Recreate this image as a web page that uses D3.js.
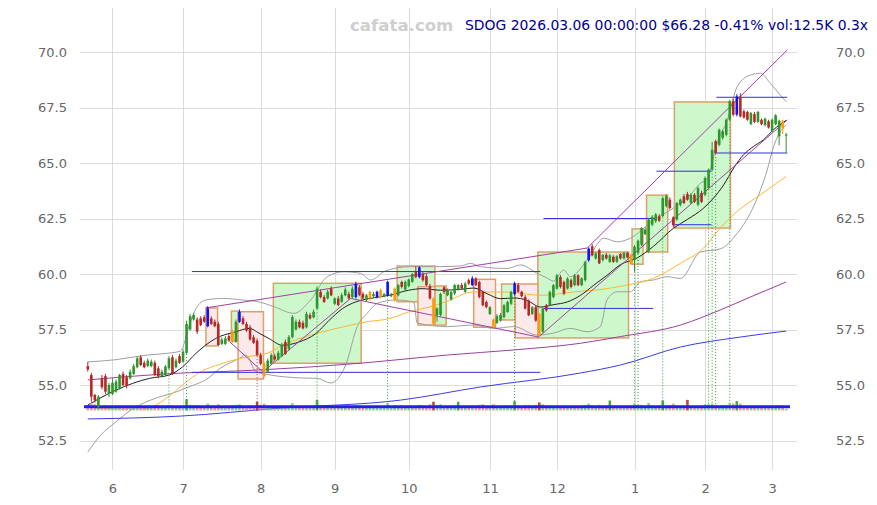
<!DOCTYPE html>
<html>
<head>
<meta charset="utf-8">
<script src="https://cdn.jsdelivr.net/npm/d3@7"></script>
<style>
  body { margin: 0; background: #fff; }
  svg { display: block; font-family: "DejaVu Sans", sans-serif; }
</style>
</head>
<body>
<div id="chart"></div>
<script>
// daily candles, index 0 = 2025-05-21 ... 198 = 2026-03-06
var open = [
  55.85,55.45,54.55,54.02,55.30,55.40,54.60,54.60,54.70,54.85,55.50,55.35,55.30,55.50,55.80,56.25,56.00,55.85,55.85,56.00,
  55.75,55.40,55.45,55.75,56.25,55.80,56.30,56.05,56.45,57.50,57.95,57.95,58.00,58.05,57.65,58.00,57.85,57.75,56.85,56.85,
  57.20,56.95,56.95,57.85,58.00,57.75,57.60,57.15,57.00,56.35,55.96,55.60,55.96,56.30,56.15,56.30,56.94,56.63,57.16,57.50,
  57.85,57.80,57.60,58.15,58.05,58.44,59.20,58.96,58.90,59.34,58.66,58.90,58.75,59.04,59.10,58.96,58.96,59.40,59.10,58.82,
  58.90,59.00,58.96,58.96,59.00,59.04,59.00,58.82,59.04,59.64,59.30,59.45,59.65,60.10,59.86,60.00,59.90,59.45,58.90,58.15,
  58.15,59.40,59.04,58.85,59.12,59.30,59.50,59.20,59.72,59.50,59.80,59.64,59.19,58.74,58.20,57.95,57.80,57.90,58.06,58.29,
  58.66,59.10,59.50,59.20,58.96,58.80,58.20,58.50,58.20,57.40,58.59,58.59,58.96,59.34,59.86,59.64,59.34,59.72,59.50,59.94,
  59.50,59.72,60.62,61.25,60.70,61.08,60.63,60.86,60.54,60.78,60.55,60.90,60.70,60.95,60.86,60.63,60.95,61.32,61.80,61.02,
  62.22,62.38,62.60,62.61,63.06,63.35,62.55,62.45,63.12,63.50,63.60,63.20,63.57,63.12,63.65,63.57,63.87,64.70,65.98,65.82,
  66.13,66.27,66.95,67.78,67.18,68.00,67.33,67.30,66.75,67.20,66.85,66.95,66.70,66.88,66.45,66.75,66.20,66.90,66.25
];
var high = [
  56.05,55.55,54.60,54.55,55.45,55.50,55.10,55.30,55.25,55.50,55.60,55.45,55.70,55.95,56.30,56.35,56.10,56.20,56.15,56.10,
  55.85,55.70,55.90,56.30,56.35,56.20,56.40,56.60,57.90,58.20,58.25,58.05,58.10,58.15,58.55,58.10,57.95,57.85,57.15,57.20,
  57.30,57.50,57.95,58.40,58.10,57.85,57.70,57.25,57.10,56.45,56.05,56.20,56.45,56.40,56.55,56.90,57.05,57.25,58.15,57.95,
  57.95,57.90,58.30,58.25,58.40,59.45,59.30,59.05,59.30,59.45,58.95,59.00,59.15,59.40,59.20,59.45,59.65,59.50,59.20,59.10,
  59.25,59.20,59.25,59.35,59.15,59.70,59.15,59.40,59.55,59.70,59.70,59.80,60.05,60.35,60.35,60.10,60.00,59.55,58.95,58.50,
  59.15,59.45,59.35,59.25,59.55,59.55,59.60,59.65,59.80,59.90,59.85,59.70,59.25,58.80,58.55,58.00,58.20,58.25,58.65,58.80,
  59.25,59.65,59.60,59.25,59.05,58.85,58.55,58.60,58.25,58.50,58.65,59.25,59.55,60.00,59.95,59.70,59.85,59.80,60.00,60.00,
  59.85,60.60,61.20,61.35,61.00,61.15,60.90,60.95,60.90,60.85,60.85,60.95,61.00,61.00,60.90,61.30,61.55,62.12,62.10,62.50,
  62.65,62.75,62.70,63.50,63.60,63.45,62.60,63.25,63.40,63.60,63.70,63.65,63.65,63.95,63.75,64.40,64.75,65.95,66.05,66.55,
  66.50,67.00,67.85,67.90,68.10,68.15,67.40,67.35,67.30,67.30,67.35,67.00,67.05,66.95,67.00,67.20,66.95,66.95,66.35
];
var low = [
  55.60,54.25,54.20,53.95,54.80,54.60,54.45,54.55,54.65,54.80,54.95,54.85,55.25,55.45,55.75,55.85,55.75,55.80,55.80,55.40,
  55.30,55.35,55.40,55.70,55.45,55.75,55.95,56.00,56.40,57.45,57.90,57.30,57.65,57.80,57.60,57.70,57.60,56.75,56.80,56.80,
  56.95,56.90,56.90,57.80,57.70,57.40,57.00,56.85,56.30,55.90,55.35,55.55,55.90,56.10,56.10,56.25,56.35,56.55,57.10,57.45,
  57.55,57.50,57.55,57.95,58.00,58.40,58.90,58.70,58.85,59.00,58.60,58.55,58.70,59.00,58.85,58.90,58.90,59.00,58.85,58.75,
  58.80,58.95,58.90,58.90,58.95,59.00,58.95,58.75,59.00,59.35,59.25,59.40,59.60,59.80,59.80,59.65,59.45,58.85,57.70,57.85,
  58.10,59.10,59.00,58.80,59.05,59.25,59.30,59.15,59.50,59.45,59.45,58.90,58.55,58.45,58.15,57.55,57.75,57.85,58.00,58.25,
  58.60,59.05,59.15,58.95,58.40,58.10,58.15,57.85,57.20,57.35,58.30,58.55,58.90,59.30,59.35,59.05,59.30,59.35,59.45,59.45,
  59.45,59.65,60.55,60.80,60.65,60.45,60.55,60.65,60.50,60.50,60.50,60.65,60.65,60.70,60.40,60.10,60.90,61.25,61.75,60.95,
  62.15,62.30,62.35,62.55,63.00,62.90,62.10,62.40,63.05,63.15,63.30,63.15,63.20,63.05,63.20,63.50,63.80,64.65,65.40,65.75,
  66.05,66.20,66.90,67.10,67.10,67.05,67.00,66.90,66.70,66.80,66.80,66.70,66.65,66.55,66.40,66.70,65.80,66.30,65.45
];
var close = [
  55.70,54.47,54.32,54.47,54.90,54.70,55.00,55.10,55.15,55.45,55.00,54.95,55.60,55.85,56.20,55.90,55.80,56.10,56.05,55.45,
  55.40,55.60,55.83,56.20,55.50,56.10,56.00,56.50,57.75,58.10,58.15,57.40,57.70,57.85,58.45,57.75,57.65,56.80,57.05,57.10,
  57.00,57.40,57.85,58.30,57.75,57.45,57.05,56.90,56.35,55.96,55.40,56.10,56.35,56.15,56.45,56.80,56.40,57.16,58.06,57.85,
  57.60,57.55,58.20,58.00,58.30,59.34,58.96,58.74,59.20,59.04,58.90,58.60,59.05,59.30,58.90,59.34,59.56,59.05,58.90,59.04,
  59.20,59.10,59.20,59.27,59.10,59.64,59.10,59.34,59.50,59.42,59.65,59.75,60.00,59.86,60.30,59.72,59.50,58.90,57.76,58.45,
  59.10,59.20,59.27,59.19,59.50,59.50,59.35,59.57,59.57,59.80,59.50,58.96,58.59,58.51,58.50,57.60,58.10,58.15,58.59,58.74,
  59.19,59.57,59.20,59.00,58.44,58.14,58.50,57.90,57.25,58.44,58.36,59.19,59.50,59.94,59.42,59.12,59.79,59.42,59.94,59.50,
  59.80,60.54,61.14,60.84,60.93,60.48,60.86,60.70,60.84,60.55,60.80,60.70,60.95,60.75,60.45,61.23,61.50,62.07,62.00,62.45,
  62.58,62.68,62.40,63.42,63.51,62.97,62.20,63.20,63.35,63.20,63.35,63.57,63.25,63.87,63.25,64.32,64.70,65.60,65.45,66.50,
  66.43,66.95,67.78,67.18,68.00,67.10,67.05,66.95,67.25,66.85,67.30,66.75,67.00,66.60,66.95,67.15,66.90,66.55,66.28
];
// volume in thousands
var volume = [
  45,60,50,40,35,40,30,35,30,40,35,30,30,35,40,35,30,30,35,40,
  40,30,30,45,40,30,35,30,90,45,40,40,35,35,55,35,35,50,35,30,
  30,40,45,50,35,30,40,35,70,45,55,40,35,30,30,35,40,35,60,35,
  30,30,40,30,35,85,40,35,30,35,30,35,35,30,35,35,45,40,30,30,
  35,30,40,35,30,60,35,40,35,40,30,35,40,35,45,40,35,50,70,45,
  50,35,30,35,30,70,30,30,35,40,35,45,50,35,30,50,35,30,35,40,
  40,75,40,35,45,45,30,45,65,50,35,40,35,40,35,40,30,35,40,30,
  35,45,55,40,35,45,30,30,80,35,30,30,35,30,40,55,45,45,35,60,
  40,35,40,80,40,45,55,40,35,40,85,35,35,40,35,50,50,55,45,40,
  45,45,60,55,75,55,40,35,35,40,35,30,35,35,40,35,40,40,12.5
];
var blueDays = [34, 43, 76, 82, 85, 94, 109, 121, 142, 184];
var orangeDays = [41, 50, 80, 83, 87, 98, 115, 128, 154, 197];

var monthIdx = [7, 27, 49, 70, 91, 114, 133, 155, 175, 194];
var monthLabels = ["6", "7", "8", "9", "10", "11", "12", "1", "2", "3"];
var priceTicks = [52.5, 55, 57.5, 60, 62.5, 65, 67.5, 70];

// indicator lines, [day index, price]
var ma20 = [[0,54.1],[8,54.77],[17.5,55.3],[23.1,55.45],[26.9,55.82],[30.7,56.43],[36.3,57.1],[42,57.4],[45.8,57.55],
  [48.6,57.33],[51.4,57.09],[55.2,56.79],[59.9,56.94],[64.6,57.31],[68.4,57.91],[72.2,58.44],[75.9,58.74],[79.7,58.89],
  [85.4,59.04],[91,59.27],[94.8,59.34],[100,59.27],[105.7,59.31],[109.4,59.37],[113.2,59.11],[117,58.89],[120.8,58.92],
  [124.6,58.81],[128.3,58.51],[132.1,58.62],[135.9,58.74],[139.7,59.04],[143.4,59.49],[147.2,59.94],[151,60.42],
  [155.7,60.72],[160.4,61.25],[166.1,62.07],[169.9,62.45],[174.6,62.97],[177.4,63.42],[180.3,64.02],[183.1,64.77],
  [185.9,65.37],[188.8,65.75],[191.6,66.05],[194.4,66.5],[198,66.92]];
var bbUpper = [[0,56.04],[7.4,56.13],[16.9,56.35],[22.6,56.43],[26.3,56.53],[28.8,57.7],[30.7,58.45],[33.5,58.83],
  [38.2,58.9],[43.9,58.83],[48.6,58.74],[52.8,58.53],[58.4,58.23],[63.2,58.83],[67.9,59.88],[72.6,60.1],[77.3,60.03],
  [80.2,59.73],[84.4,60.14],[91.5,60.33],[98.1,60.33],[105.7,60.36],[108.5,60.48],[111.3,60.33],[118.9,60.25],
  [122.7,60.41],[127.4,60.03],[130.2,59.82],[132,59.68],[134.9,60.18],[136.8,59.88],[141.6,60.63],[146.3,61.61],
  [150.1,61.45],[153.8,61.61],[160.4,62.43],[165.2,62.88],[170.8,63.56],[173.7,64.09],[175.6,64.31],[178.4,65.89],
  [181.3,66.94],[184.1,68.44],[187.8,68.96],[190.7,69.04],[193.5,68.59],[196.3,68.06],[198,67.76]];
var bbLower = [[0,51.98],[3.7,52.75],[7.9,53.33],[12.2,53.87],[17.8,54.32],[24.9,54.68],[29.2,54.95],[33.4,55.23],
  [37.7,55.77],[43,56.2],[44.8,56.35],[47.7,55.6],[51.8,55.45],[60.3,55.32],[65.1,55.3],[68.8,55.09],[73.1,55.9],
  [76.4,57.63],[79.2,58.23],[82.1,58.68],[87.3,58.83],[92.4,58.74],[93.4,57.79],[101.9,57.63],[109.4,57.7],
  [115.1,57.55],[120.8,57.63],[127.4,57.25],[132,57.34],[136.8,57.55],[141.6,57.4],[145.3,57.63],[147.2,58.83],
  [150.1,59.2],[153.8,59.2],[156.7,59.65],[160.4,59.73],[164.2,59.88],[168,59.8],[173.7,60.99],[179.3,61.13],
  [184.1,61.83],[187.8,62.73],[190.7,63.78],[192.6,64.68],[194.4,65.73],[196.3,66.41],[198,66.71]];
var ma50 = [[2.3,53.96],[9.3,53.92],[16.9,53.92],[19.8,54.14],[23.5,54.55],[27.2,55.05],[32,55.59],[37.7,55.95],
  [43.3,56.2],[47.6,56.34],[50.9,56.43],[55.2,56.79],[64.6,57.31],[72.2,57.61],[78.8,57.84],[85.4,57.99],[91,58.29],
  [98.6,58.59],[101.4,58.74],[109.4,59.19],[118.9,59.19],[128.3,59.04],[137.8,59.19],[147.2,59.34],[152.4,59.49],
  [160.4,59.81],[168,60.48],[174.6,61.17],[179.3,62.07],[184.1,62.82],[190.7,63.57],[198,64.4]];
var ma100 = [[0,55.23],[22.1,55.5],[49,55.68],[77.3,55.98],[101.9,56.35],[120.8,56.58],[139.7,56.88],[151,57.18],
  [168,57.7],[179.3,58.38],[187.8,58.96],[198,59.64]];
var ma200 = [[0,53.47],[26.3,53.6],[54.7,53.96],[88.7,54.32],[111.3,54.91],[139.7,55.54],[151,55.9],[168,56.71],
  [185,57.16],[198,57.43]];

// zones [from day, to day, top, bottom]
var greenBoxes = [[40.7,42.6,58.33,56.98],[52.6,77.5,59.58,55.98],[87.7,98.4,60.36,58.75],[98.4,101.6,59.46,57.7],
  [117.3,121.2,59.55,57.93],[127.6,153.3,60.99,57.12],[154.3,157.4,62.03,60.44],[158.4,164.4,63.55,60.99],
  [166.3,182.2,67.75,62.07]];
var pinkBoxes = [[33.5,36.8,58.47,56.76],[42.6,49.8,58.3,55.27],[93.6,98.4,59.43,57.7],[109.4,115.6,59.76,57.6],
  [121.2,127.6,59.55,57.12]];
// levels [from day, to day, price]
var levels = [[29.5,128.3,60.11],[29.5,128.3,55.57],[129.2,160.9,62.5],[129.2,160.3,58.45],[161.2,176.8,64.63],
  [166,176.8,62.22],[178.2,198.3,67.96],[178.2,198.3,65.45]];
var zigzag = [[40.2,56.95],[49.6,55.59],[74.5,58.9],[127.8,57.16],[198.3,66.94]];
var channel = [[33.4,58.47],[141.6,61.17],[198.3,70.09]];
var signalUp = [23, 28, 65, 85, 121, 155, 156, 163, 176, 177, 178, 182];
var signalDown = [48];
var baseLevel = 54.02;

var W = 877, H = 505;
var svg = d3.select("#chart").append("svg").attr("width", W).attr("height", H);
svg.append("rect").attr("width", W).attr("height", H).attr("fill", "#fff");

var x = d3.scaleLinear().domain([0, 198]).range([87.8, 786.2]);
var y = d3.scaleLinear().domain([52.5, 70]).range([440.5, 52]);
var vy = d3.scaleLinear().domain([0, 100]).range([410.5, 398]);

// grid
svg.append("g").selectAll("line").data(priceTicks).enter().append("line")
  .attr("x1", 80).attr("x2", 797)
  .attr("y1", function(d) { return Math.round(y(d)) + 0.5; })
  .attr("y2", function(d) { return Math.round(y(d)) + 0.5; })
  .attr("stroke", "#dcdcdc");
svg.append("g").selectAll("line").data(monthIdx).enter().append("line")
  .attr("y1", 8).attr("y2", 470)
  .attr("x1", function(d) { return Math.round(x(d)) + 0.5; })
  .attr("x2", function(d) { return Math.round(x(d)) + 0.5; })
  .attr("stroke", "#dcdcdc");

// zones
function drawBoxes(data, fill) {
  svg.append("g").selectAll("rect").data(data).enter().append("rect")
    .attr("x", function(d) { return x(d[0]); })
    .attr("y", function(d) { return y(d[2]); })
    .attr("width", function(d) { return x(d[1]) - x(d[0]); })
    .attr("height", function(d) { return y(d[3]) - y(d[2]); })
    .attr("fill", fill)
    .attr("stroke", "#dda06a").attr("stroke-width", 1.5);
}
drawBoxes(greenBoxes, "#ccf8cc");
drawBoxes(pinkBoxes, "#fce9e9");

var line = d3.line().x(function(d) { return x(d[0]); }).y(function(d) { return y(d[1]); });
var smooth = d3.line().curve(d3.curveMonotoneX)
  .x(function(d) { return x(d[0]); }).y(function(d) { return y(d[1]); });

function drawLine(data, gen, color, width) {
  svg.append("path").datum(data).attr("d", gen)
    .attr("fill", "none").attr("stroke", color).attr("stroke-width", width || 1);
}
drawLine(bbUpper, smooth, "#a0a0a0");
drawLine(bbLower, smooth, "#a0a0a0");
drawLine(ma200, smooth, "#3b3bf0");
drawLine(ma100, smooth, "#9b3fa0");
drawLine(ma50, smooth, "#ffb733");
drawLine(ma20, smooth, "#222");

// levels
svg.append("g").selectAll("line").data(levels).enter().append("line")
  .attr("x1", function(d) { return x(d[0]); })
  .attr("x2", function(d) { return x(d[1]); })
  .attr("y1", function(d) { return y(d[2]); })
  .attr("y2", function(d) { return y(d[2]); })
  .attr("stroke", "#3030e0").attr("stroke-width", 1);

drawLine(zigzag, line, "#a040a8");
drawLine(channel, line, "#a040a8");

// signal drops
function drawDrops(days, color) {
  svg.append("g").selectAll("line").data(days).enter().append("line")
    .attr("x1", function(d) { return x(d); })
    .attr("x2", function(d) { return x(d); })
    .attr("y1", function(d) { return y(low[d]); })
    .attr("y2", y(baseLevel))
    .attr("stroke", color).attr("stroke-width", 1).attr("stroke-dasharray", "1,2");
}
drawDrops(signalUp, "#3a9a3a");
drawDrops(signalDown, "#c04040");

// volume
var idx = d3.range(close.length);
svg.append("g").selectAll("rect").data(idx).enter().append("rect")
  .attr("x", function(i) { return x(i) - 1.3; })
  .attr("width", 2.6)
  .attr("y", function(i) { return vy(volume[i]); })
  .attr("height", function(i) { return vy(0) - vy(volume[i]); })
  .attr("fill", function(i) {
    var up = close[i] >= open[i];
    if (volume[i] > 60) return up ? "#2e962e" : "#b52828";
    return up ? "#7cc47c" : "#e08c98";
  })
  .attr("opacity", 0.85);

svg.append("line")
  .attr("x1", 84).attr("x2", 790)
  .attr("y1", y(baseLevel)).attr("y2", y(baseLevel))
  .attr("stroke", "#2020e8").attr("stroke-width", 3);

// candles
function candleColor(i) {
  if (blueDays.indexOf(i) >= 0) return "#1010ff";
  if (orangeDays.indexOf(i) >= 0) return "#ff9a00";
  return close[i] >= open[i] ? "#2e962e" : "#b52828";
}
var candles = svg.append("g").selectAll("g").data(idx).enter().append("g");
candles.append("line")
  .attr("x1", function(i) { return x(i); })
  .attr("x2", function(i) { return x(i); })
  .attr("y1", function(i) { return y(high[i]); })
  .attr("y2", function(i) { return y(low[i]); })
  .attr("stroke", candleColor).attr("stroke-width", 1);
candles.append("rect")
  .attr("x", function(i) { return x(i) - 1.3; })
  .attr("width", 2.6)
  .attr("y", function(i) { return y(Math.max(open[i], close[i])); })
  .attr("height", function(i) { return Math.max(1, Math.abs(y(open[i]) - y(close[i]))); })
  .attr("fill", candleColor);

// axes
var fmt = d3.format(".1f");
var left = svg.append("g").attr("transform", "translate(70,0)")
  .call(d3.axisLeft(y).tickValues(priceTicks).tickFormat(fmt).tickSize(0).tickPadding(3));
var right = svg.append("g").attr("transform", "translate(833,0)")
  .call(d3.axisRight(y).tickValues(priceTicks).tickFormat(fmt).tickSize(0).tickPadding(3));
var bottom = svg.append("g").attr("transform", "translate(0,481)")
  .call(d3.axisBottom(x).tickValues(monthIdx)
    .tickFormat(function(d, i) { return monthLabels[i]; }).tickSize(0).tickPadding(3));
[left, right, bottom].forEach(function(g) {
  g.select(".domain").remove();
  g.selectAll("text").attr("fill", "#666").attr("font-size", 13)
    .attr("font-family", "DejaVu Sans, sans-serif");
});

// header
svg.append("text").attr("x", 350).attr("y", 31)
  .attr("font-size", 16.6).attr("font-weight", "bold").attr("fill", "#cfcfcf")
  .text("cafata.com");
svg.append("text").attr("x", 868).attr("y", 30).attr("text-anchor", "end")
  .attr("font-size", 13.9).attr("fill", "#00008c")
  .text("SDOG 2026.03.06 00:00:00 $66.28 -0.41% vol:12.5K 0.3x");
</script>
</body>
</html>
